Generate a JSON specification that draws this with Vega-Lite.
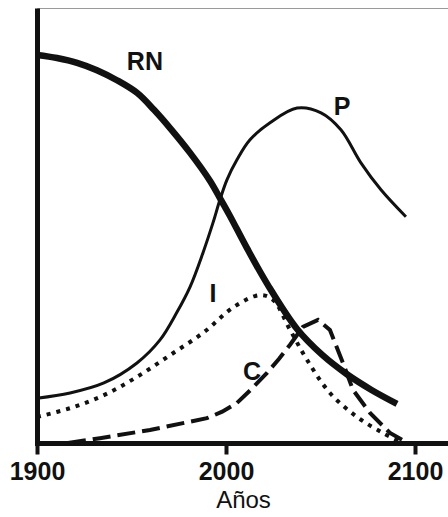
{
  "$schema": "https://vega.github.io/schema/vega-lite/v6.json",
  "autosize": {"type": "none"},
  "width": 412,
  "height": 435,
  "padding": {"left": 37, "top": 8, "right": 0, "bottom": 74},
  "background": "white",
  "config": {
    "view": {"stroke": "#9a9a9a", "strokeWidth": 1},
    "font": "Liberation Sans"
  },
  "datasets": {
    "curves": [
      {"s": "RN", "x": 1900, "y": 89.2},
      {"s": "RN", "x": 1910.6, "y": 88.5},
      {"s": "RN", "x": 1921.2, "y": 87.4},
      {"s": "RN", "x": 1931.7, "y": 85.7},
      {"s": "RN", "x": 1942.3, "y": 83.4},
      {"s": "RN", "x": 1952.9, "y": 80.5},
      {"s": "RN", "x": 1961.9, "y": 76.6},
      {"s": "RN", "x": 1970.4, "y": 72.4},
      {"s": "RN", "x": 1981, "y": 66.7},
      {"s": "RN", "x": 1991.5, "y": 60.3},
      {"s": "RN", "x": 1996.8, "y": 56.3},
      {"s": "RN", "x": 2002.1, "y": 52.2},
      {"s": "RN", "x": 2011.1, "y": 44.8},
      {"s": "RN", "x": 2022.2, "y": 36.3},
      {"s": "RN", "x": 2037.6, "y": 26.2},
      {"s": "RN", "x": 2050.8, "y": 20.3},
      {"s": "RN", "x": 2064, "y": 15.8},
      {"s": "RN", "x": 2077, "y": 12.2},
      {"s": "RN", "x": 2090.5, "y": 9.0},
      {"s": "P", "x": 1900, "y": 10.3},
      {"s": "P", "x": 1917.5, "y": 11.5},
      {"s": "P", "x": 1935.4, "y": 13.8},
      {"s": "P", "x": 1952.9, "y": 18.4},
      {"s": "P", "x": 1965.1, "y": 23.7},
      {"s": "P", "x": 1974.1, "y": 30.1},
      {"s": "P", "x": 1981, "y": 35.9},
      {"s": "P", "x": 1987.8, "y": 43.7},
      {"s": "P", "x": 1993.1, "y": 50.6},
      {"s": "P", "x": 1996.8, "y": 55.9},
      {"s": "P", "x": 2000.5, "y": 60.5},
      {"s": "P", "x": 2005.8, "y": 65.1},
      {"s": "P", "x": 2012.7, "y": 69.7},
      {"s": "P", "x": 2023.3, "y": 73.6},
      {"s": "P", "x": 2037.6, "y": 77.0},
      {"s": "P", "x": 2050.3, "y": 75.9},
      {"s": "P", "x": 2060.8, "y": 72.0},
      {"s": "P", "x": 2071.4, "y": 64.4},
      {"s": "P", "x": 2082, "y": 58.2},
      {"s": "P", "x": 2095.2, "y": 52.0},
      {"s": "I", "x": 1900, "y": 6.0},
      {"s": "I", "x": 1917.5, "y": 8.0},
      {"s": "I", "x": 1935.4, "y": 11.0},
      {"s": "I", "x": 1952.9, "y": 15.2},
      {"s": "I", "x": 1970.4, "y": 20.2},
      {"s": "I", "x": 1988.4, "y": 25.5},
      {"s": "I", "x": 2004.2, "y": 31.3},
      {"s": "I", "x": 2018, "y": 34.0},
      {"s": "I", "x": 2024.9, "y": 32.9},
      {"s": "I", "x": 2033.9, "y": 26.0},
      {"s": "I", "x": 2042.9, "y": 19.1},
      {"s": "I", "x": 2055, "y": 11.5},
      {"s": "I", "x": 2069.3, "y": 6.0},
      {"s": "I", "x": 2083.1, "y": 2.3},
      {"s": "I", "x": 2093.7, "y": 0},
      {"s": "C", "x": 1916.4, "y": 0},
      {"s": "C", "x": 1933.3, "y": 1.1},
      {"s": "C", "x": 1959.8, "y": 3.0},
      {"s": "C", "x": 1989.9, "y": 5.7},
      {"s": "C", "x": 1998, "y": 7.2},
      {"s": "C", "x": 2005.8, "y": 9.2},
      {"s": "C", "x": 2013, "y": 12.2},
      {"s": "C", "x": 2021.7, "y": 16.1},
      {"s": "C", "x": 2028, "y": 19.3},
      {"s": "C", "x": 2033.9, "y": 22.6},
      {"s": "C", "x": 2040.7, "y": 26.7},
      {"s": "C", "x": 2048.7, "y": 28.3},
      {"s": "C", "x": 2055, "y": 26.0},
      {"s": "C", "x": 2061.9, "y": 18.4},
      {"s": "C", "x": 2067.2, "y": 12.2},
      {"s": "C", "x": 2076.2, "y": 6.9},
      {"s": "C", "x": 2086.8, "y": 2.3},
      {"s": "C", "x": 2096.3, "y": 0}
    ],
    "labels": [
      {"t": "RN", "x": 1957.1, "y": 87.6},
      {"t": "P", "x": 2061.4, "y": 77.2},
      {"t": "I", "x": 1993.1, "y": 34.3},
      {"t": "C", "x": 2013.8, "y": 16.3}
    ]
  },
  "encoding": {
    "x": {
      "field": "x", "type": "quantitative",
      "scale": {"domain": [1900, 2118], "nice": false, "zero": false},
      "axis": {
        "values": [1900, 2000, 2100], "format": "d",
        "title": "Años", "titleFont": "Liberation Sans", "titleFontSize": 24,
        "titleFontWeight": "normal", "titleColor": "#111", "titlePadding": 4,
        "labelFont": "Liberation Sans", "labelFontSize": 25, "labelFontWeight": "bold",
        "labelColor": "#111", "labelPadding": 5, "labelFlush": false,
        "domainColor": "#111", "domainWidth": 5, "domainCap": "square",
        "tickColor": "#111", "tickWidth": 4, "tickSize": 11, "grid": false
      }
    },
    "y": {
      "field": "y", "type": "quantitative",
      "scale": {"domain": [0, 100], "nice": false},
      "axis": {
        "title": null, "labels": false, "ticks": false, "grid": false,
        "domainColor": "#111", "domainWidth": 5
      }
    }
  },
  "layer": [
    {
      "data": {"name": "curves"},
      "transform": [{"filter": "datum.s === 'RN'"}],
      "mark": {"type": "line", "interpolate": "catmull-rom", "color": "#111", "strokeWidth": 6.5, "strokeCap": "butt"}
    },
    {
      "data": {"name": "curves"},
      "transform": [{"filter": "datum.s === 'P'"}],
      "mark": {"type": "line", "interpolate": "catmull-rom", "color": "#111", "strokeWidth": 3, "strokeCap": "butt"}
    },
    {
      "data": {"name": "curves"},
      "transform": [{"filter": "datum.s === 'I'"}],
      "mark": {"type": "line", "interpolate": "catmull-rom", "color": "#111", "strokeWidth": 4, "strokeDash": [4, 6], "strokeCap": "butt"}
    },
    {
      "data": {"name": "curves"},
      "transform": [{"filter": "datum.s === 'C'"}],
      "mark": {"type": "line", "interpolate": "linear", "color": "#111", "strokeWidth": 4, "strokeDash": [18, 7], "strokeCap": "butt", "strokeJoin": "miter"}
    },
    {
      "data": {"name": "labels"},
      "mark": {"type": "text", "font": "Liberation Sans", "fontSize": 25, "fontWeight": "bold", "color": "#111", "baseline": "middle", "align": "center"},
      "encoding": {"text": {"field": "t"}}
    }
  ]
}
